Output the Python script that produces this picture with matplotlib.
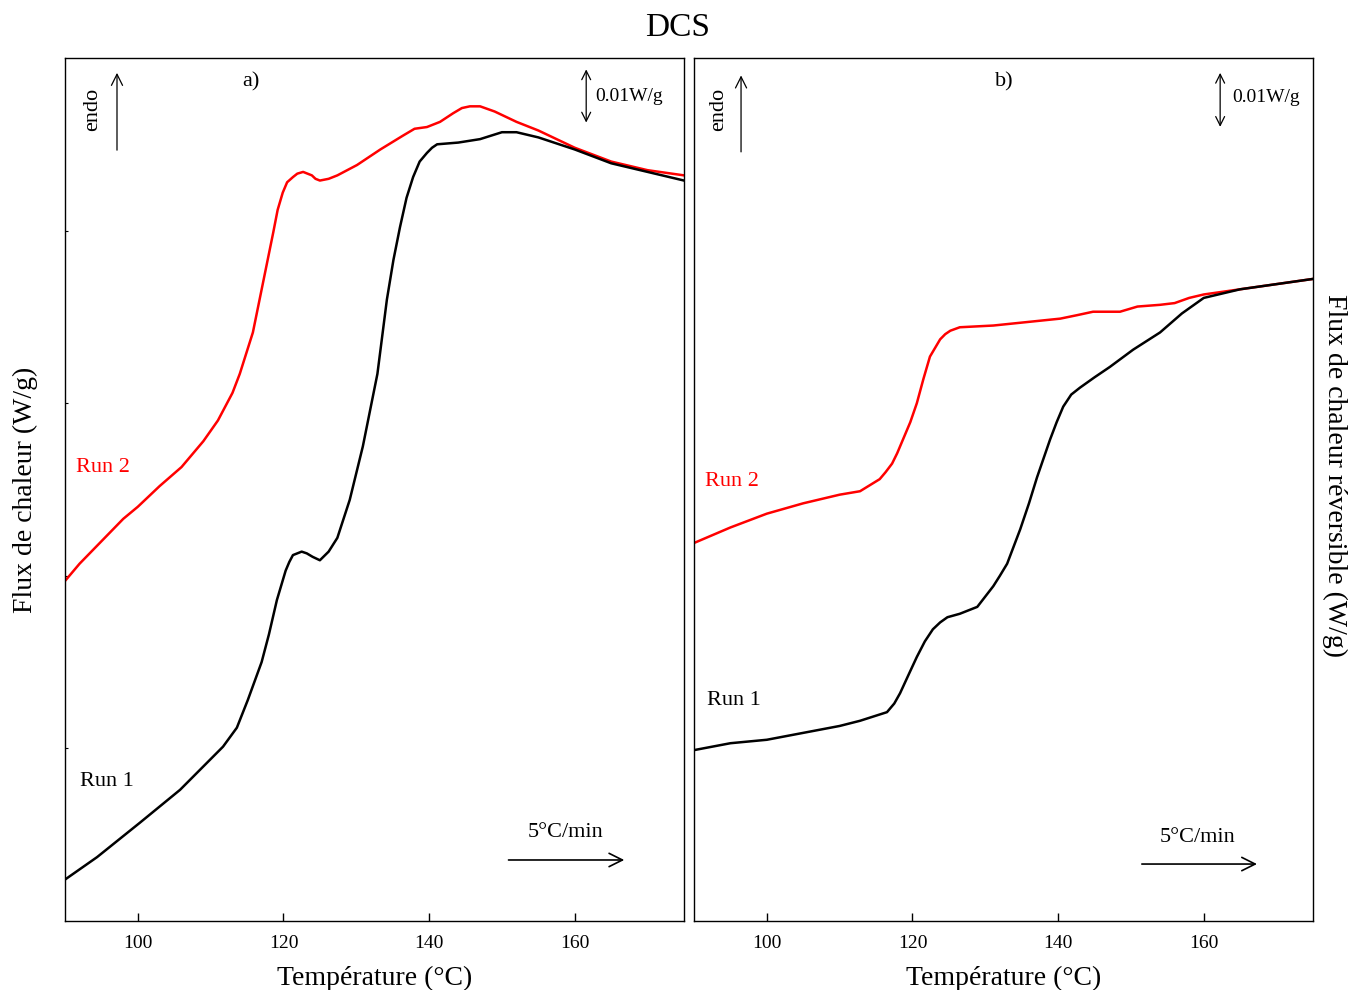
import matplotlib
matplotlib.use("Agg")
import matplotlib.pyplot as plt

plt.rcParams["font.family"] = ["Liberation Serif", "DejaVu Serif"]

# --- a) DSC heat flow (read off the reference) ---
a_run1_T = [90, 94.4, 100.3, 105.8, 111.7, 113.6, 115.1, 117, 118, 119.1, 120.3,
            120.8, 121.3, 122.5, 123.2, 124, 125, 126.2, 127.4, 129.1, 130.9,
            132.9, 134.2, 135.1, 136, 136.9, 137.8, 138.7, 139.7, 140.4, 141.1,
            144, 147, 150, 152, 155, 160, 165, 170, 175]
a_run1_y = [0.24, 0.37, 0.57, 0.76, 1.01, 1.12, 1.28, 1.50, 1.66, 1.86, 2.03,
            2.08, 2.12, 2.14, 2.13, 2.11, 2.09, 2.14, 2.22, 2.44, 2.75,
            3.17, 3.60, 3.83, 4.02, 4.19, 4.31, 4.40, 4.45, 4.48, 4.50,
            4.51, 4.53, 4.57, 4.57, 4.54, 4.47, 4.39, 4.34, 4.29]

a_run2_T = [90, 92, 95, 98, 100, 103, 106, 109, 111, 113, 114, 115.8, 117.2,
            118.6, 119.2, 119.9, 120.5, 121.3, 121.9, 122.7, 123.9, 124.4, 125,
            126.2, 127.4, 130.1, 133.3, 136.4, 138, 139.7, 141.5, 143.3, 144.5,
            145.6, 146.3, 147, 149, 152, 155, 160, 165, 170, 175]
a_run2_y = [1.97, 2.07, 2.20, 2.33, 2.40, 2.52, 2.63, 2.78, 2.90, 3.06, 3.17,
            3.41, 3.70, 3.99, 4.12, 4.22, 4.28, 4.31, 4.33, 4.34, 4.32, 4.30, 4.29,
            4.30, 4.32, 4.38, 4.47, 4.55, 4.59, 4.60, 4.63, 4.68, 4.71,
            4.72, 4.72, 4.72, 4.69, 4.63, 4.58, 4.48, 4.40, 4.35, 4.32]

# --- b) reversible heat flow ---
b_run1_T = [90, 95, 100, 105, 110, 112.8, 116.5, 117.5, 118.3, 119.5, 120.6,
            121.7, 122.8, 123.8, 124.8, 126.5, 128.9, 131.1, 132, 133, 134.8,
            136, 137.1, 138.9, 139.8, 140.7, 141.8, 143, 145, 147.1, 150.3, 154,
            157, 160, 165, 170, 175]
b_run1_y = [0.99, 1.03, 1.05, 1.09, 1.13, 1.16, 1.21, 1.26, 1.32, 1.43, 1.53,
            1.62, 1.69, 1.73, 1.76, 1.78, 1.82, 1.94, 2.00, 2.07, 2.27,
            2.42, 2.57, 2.79, 2.89, 2.98, 3.05, 3.09, 3.15, 3.21, 3.31, 3.41,
            3.52, 3.61, 3.66, 3.69, 3.72]

b_run2_T = [90, 95, 100, 105, 110, 112.8, 115.5, 116.3, 117.2, 117.9, 118.7,
            119.7, 120.6, 121.5, 122.4, 123.8, 124.5, 125.2, 126.5, 131.1, 135.7,
            140.3, 142.6, 144.8, 148.5, 150.9, 154, 156, 158, 160, 165, 170, 175]
b_run2_y = [2.19, 2.28, 2.36, 2.42, 2.47, 2.49, 2.56, 2.60, 2.65, 2.71, 2.79,
            2.89, 3.00, 3.14, 3.27, 3.37, 3.40, 3.42, 3.44, 3.45, 3.47,
            3.49, 3.51, 3.53, 3.53, 3.56, 3.57, 3.58, 3.61, 3.63, 3.66, 3.69, 3.72]

XTICKS = [100, 120, 140, 160]
YTICKS = [1, 2, 3, 4]

W, H = 1348, 990
fig = plt.figure(figsize=(W / 100, H / 100), dpi=100)
ax_a = fig.add_axes([65 / W, 69 / H, 619 / W, 863 / H])
ax_b = fig.add_axes([694 / W, 69 / H, 619 / W, 863 / H])

fig.text(678 / W, 1 - 28 / H, "DCS", ha="center", va="center", fontsize=24)


def annotate_panel(ax, xs, letter, run2_pos, run1_pos):
    t = ax.transAxes
    ax.text(xs["endo"], 0.94, "endo", rotation=90, ha="center", va="center",
            fontsize=16, transform=t)
    ax.annotate("", xy=(xs["arrow"], xs["arrow_top"]), xytext=(xs["arrow"], xs["arrow_bot"]),
                xycoords=t, textcoords=t,
                arrowprops=dict(arrowstyle="->", lw=0.9, color="black", mutation_scale=20))
    ax.text(xs["letter"], 0.972, letter, ha="center", va="center",
            fontsize=16, transform=t)
    ax.annotate("", xy=(xs["bar"], xs["bar_top"]), xytext=(xs["bar"], xs["bar_bot"]),
                xycoords=t, textcoords=t,
                arrowprops=dict(arrowstyle="<->", lw=0.9, color="black", mutation_scale=16))
    ax.text(xs["bar_txt"], xs["bar_txt_y"], "0.01W/g", ha="left", va="center",
            fontsize=14, transform=t)
    ax.text(xs["rate"], xs["rate_y"], "5°C/min", ha="center", va="center",
            fontsize=16, transform=t)
    ax.annotate("", xy=(xs["rate_x1"], xs["rate_ay"]), xytext=(xs["rate_x0"], xs["rate_ay"]),
                xycoords=t, textcoords=t,
                arrowprops=dict(arrowstyle="->", lw=1.2, color="black", mutation_scale=24))
    ax.text(run2_pos[0], run2_pos[1], "Run 2", color="red", ha="left", va="center",
            fontsize=16, transform=t)
    ax.text(run1_pos[0], run1_pos[1], "Run 1", color="black", ha="left", va="center",
            fontsize=16, transform=t)


for ax in (ax_a, ax_b):
    ax.set_xlim(90, 175)
    ax.set_ylim(0, 5)
    ax.set_xticks(XTICKS)
    ax.tick_params(axis="x", direction="in", length=6, width=1, labelsize=14, pad=10)
    ax.set_xlabel("Température (°C)", fontsize=20, labelpad=10)
    for s in ax.spines.values():
        s.set_linewidth(1.0)

ax_a.plot(a_run2_T, a_run2_y, color="red", lw=1.8)
ax_a.plot(a_run1_T, a_run1_y, color="black", lw=1.8)
ax_a.set_yticks(YTICKS)
ax_a.set_yticklabels([])
ax_a.tick_params(axis="y", direction="in", length=2.5, width=0.8)
ax_a.set_ylabel("Flux de chaleur (W/g)", fontsize=20, labelpad=16)

ax_b.plot(b_run2_T, b_run2_y, color="red", lw=1.8)
ax_b.plot(b_run1_T, b_run1_y, color="black", lw=1.8)
ax_b.set_yticks([])
# right-hand label sits a bit above the axes centre in the reference
fig.text(1335 / W, 1 - 475 / H, "Flux de chaleur réversible (W/g)", fontsize=20,
         rotation=270, ha="center", va="center")

annotate_panel(ax_a, dict(endo=0.045, arrow=0.084, arrow_top=0.986, arrow_bot=0.890,
                          letter=0.300, bar=0.842, bar_top=0.990, bar_bot=0.922,
                          bar_txt=0.856, bar_txt_y=0.955, rate=0.809, rate_y=0.102,
                          rate_x0=0.712, rate_x1=0.908, rate_ay=0.0707),
               "a)", (0.018, 0.525), (0.024, 0.162))
annotate_panel(ax_b, dict(endo=0.039, arrow=0.076, arrow_top=0.983, arrow_bot=0.888,
                          letter=0.502, bar=0.850, bar_top=0.986, bar_bot=0.917,
                          bar_txt=0.869, bar_txt_y=0.954, rate=0.813, rate_y=0.097,
                          rate_x0=0.719, rate_x1=0.914, rate_ay=0.066),
               "b)", (0.018, 0.509), (0.021, 0.255))

fig.savefig("out.png", dpi=100)
